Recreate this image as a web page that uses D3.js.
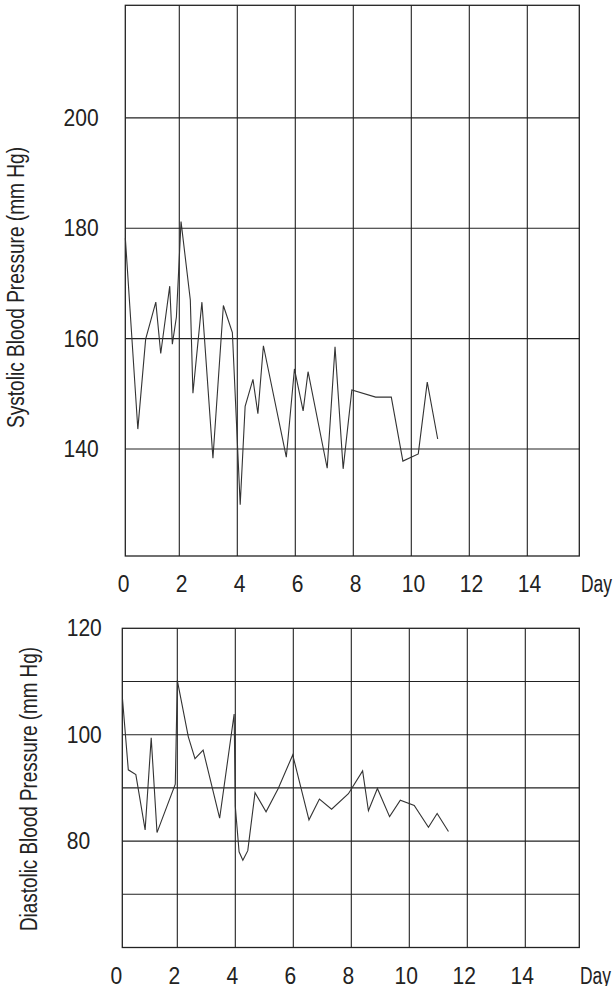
<!DOCTYPE html>
<html>
<head>
<meta charset="utf-8">
<script src="https://cdn.jsdelivr.net/npm/d3@7"></script>
<style>
    body { margin: 0; background: #fff; }
    svg text { font-family: "Liberation Sans", Arial, sans-serif; fill: #222; }
</style>
</head>
<body>
<svg id="canvas" width="613" height="986"></svg>
<script>
(function () {

    // Data (day, mm Hg).
    var sysDays = [0.14, 0.57, 0.84, 1.19, 1.36, 1.67, 1.76, 1.90, 2.06, 2.38, 2.47, 2.78, 3.16, 3.52, 3.83, 4.10, 4.27,
        4.54, 4.71, 4.90, 5.69, 5.97, 6.27, 6.44, 7.10, 7.37, 7.65, 7.95, 8.77, 9.31, 9.71, 10.24, 10.55, 10.91];
    var sysValues = [178.2, 143.6, 159.9, 166.6, 157.3, 169.5, 159.0, 163.9, 181.2, 167.0, 150.1, 166.6, 138.3, 166.0,
        161.1, 129.9, 147.7, 152.6, 146.4, 158.7, 138.5, 154.5, 146.9, 154.0, 136.5, 158.5, 136.4, 150.7, 149.4, 149.4,
        137.8, 139.1, 152.1, 141.8];

    var diaDays = [0.11, 0.31, 0.57, 0.89, 1.10, 1.30, 1.93, 2.00, 2.38, 2.61, 2.89, 3.46, 3.96, 4.00, 4.13, 4.26, 4.43,
        4.68, 5.06, 5.48, 5.98, 6.54, 6.90, 7.32, 7.90, 8.39, 8.59, 8.90, 9.32, 9.69, 10.17, 10.66, 10.96, 11.35];
    var diaValues = [106.7, 93.4, 92.5, 82.1, 99.4, 81.6, 90.7, 110.2, 99.6, 95.5, 97.1, 84.3, 103.9, 86.5, 78.0, 76.4,
        78.2, 89.1, 85.5, 89.9, 96.2, 84.0, 87.9, 86.0, 88.9, 93.2, 85.7, 89.9, 84.6, 87.7, 86.7, 82.6, 85.2, 81.8];

    // Ticks and grid lines.
    var dayTicks = [0, 2, 4, 6, 8, 10, 12, 14];
    var dayGrid = [2, 4, 6, 8, 10, 12, 14];
    var sysTicks = [140, 160, 180, 200];
    var sysGrid = [140, 160, 180, 200];
    var diaTicks = [80, 100, 120];
    var diaGrid = [70, 80, 90, 100, 110];

    var svg = d3.select("#canvas");
    var fontSize = 23.5;
    var digitWidth = 11.7;   // the original uses a condensed face, so squeeze the text
    var ink = "#222";

    // Panel layout in pixels.
    var panels = [
        {
            days: sysDays, values: sysValues, ticks: sysTicks, grid: sysGrid,
            xDomain: [0.138, 15.793], yDomain: [120.6, 220.4],
            left: 125.3, right: 579.3, top: 5.3, bottom: 556,
            labelX: 63.5, xPad: 19.2, xShift: 1.7, dayX: 581,
            title: "Systolic Blood Pressure (mm Hg)", titleLen: 281, titleX: 24, titleY: 287.5
        },
        {
            days: diaDays, values: diaValues, ticks: diaTicks, grid: diaGrid,
            xDomain: [0.103, 15.862], yDomain: [60, 120],
            left: 122.3, right: 579.3, top: 628.3, bottom: 947.5,
            labelX: 66.7, xPad: 20, xShift: -3.5, dayX: 580,
            title: "Diastolic Blood Pressure (mm Hg)", titleLen: 284, titleX: 37, titleY: 789
        }
    ];

    panels.forEach(drawPanel);

    function squeeze(sel) {
        sel.attr("textLength", function () { return this.textContent.length * digitWidth; })
            .attr("lengthAdjust", "spacingAndGlyphs");
    }

    function drawPanel(p) {
        var x = d3.scaleLinear().domain(p.xDomain).range([p.left, p.right]);
        var y = d3.scaleLinear().domain(p.yDomain).range([p.bottom, p.top]);
        var g = svg.append("g");

        // Grid lines.
        g.selectAll(".vgrid").data(dayGrid).enter().append("line")
            .attr("x1", d => x(d)).attr("x2", d => x(d))
            .attr("y1", p.top).attr("y2", p.bottom)
            .attr("stroke", ink).attr("stroke-width", 1.1);
        g.selectAll(".hgrid").data(p.grid).enter().append("line")
            .attr("x1", p.left).attr("x2", p.right)
            .attr("y1", d => y(d)).attr("y2", d => y(d))
            .attr("stroke", ink).attr("stroke-width", 1.1);

        // Frame.
        g.append("rect")
            .attr("x", p.left).attr("y", p.top)
            .attr("width", p.right - p.left).attr("height", p.bottom - p.top)
            .attr("fill", "none").attr("stroke", ink).attr("stroke-width", 1.3);

        // Data line.
        var pts = p.days.map((d, i) => [d, p.values[i]]);
        g.append("path")
            .datum(pts)
            .attr("fill", "none")
            .attr("stroke", "#333")
            .attr("stroke-width", 1.1)
            .attr("d", d3.line().x(d => x(d[0])).y(d => y(d[1])));

        // X axis labels.
        var xAxis = g.append("g")
            .attr("transform", "translate(" + p.xShift + ", " + p.bottom + ")")
            .call(d3.axisBottom(x).tickValues(dayTicks).tickSize(0).tickPadding(p.xPad));
        xAxis.select(".domain").remove();
        xAxis.selectAll("text").style("font-size", fontSize + "px").attr("fill", ink).call(squeeze);

        g.append("text")
            .attr("x", p.dayX).attr("y", p.bottom + p.xPad + fontSize * 0.71)
            .style("font-size", fontSize + "px")
            .attr("textLength", 31).attr("lengthAdjust", "spacingAndGlyphs")
            .text("Day");

        // Y axis labels, left aligned.
        var yAxis = g.append("g")
            .attr("transform", "translate(" + p.left + ", 0)")
            .call(d3.axisLeft(y).tickValues(p.ticks).tickSize(0));
        yAxis.select(".domain").remove();
        yAxis.selectAll("text")
            .attr("text-anchor", "start")
            .attr("x", p.labelX - p.left)
            .attr("fill", ink)
            .style("font-size", fontSize + "px")
            .call(squeeze);

        // Rotated axis title.
        g.append("text")
            .attr("transform", "translate(" + p.titleX + ", " + p.titleY + ") rotate(-90)")
            .attr("text-anchor", "middle")
            .style("font-size", fontSize + "px")
            .attr("textLength", p.titleLen).attr("lengthAdjust", "spacingAndGlyphs")
            .text(p.title);
    }

})();
</script>
</body>
</html>
